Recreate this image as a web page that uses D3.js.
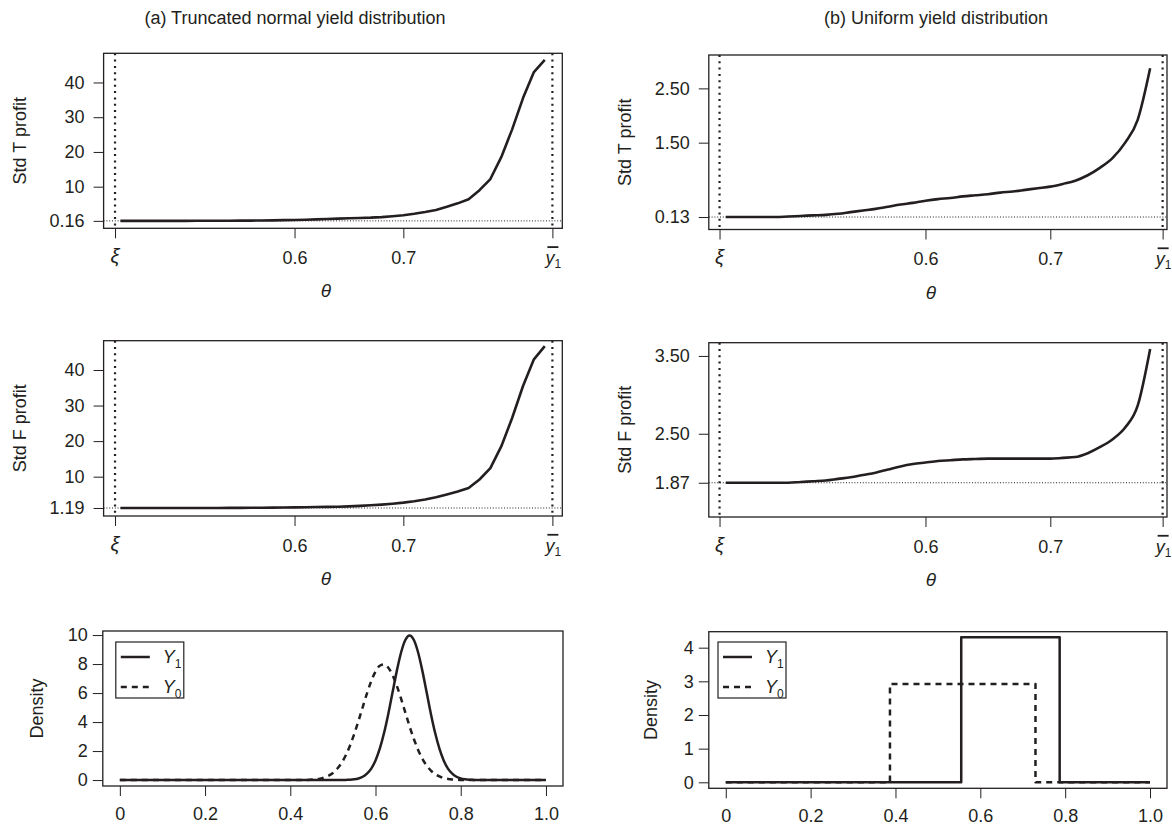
<!DOCTYPE html>
<html>
<head>
<meta charset="utf-8">
<script src="https://cdn.jsdelivr.net/npm/d3@7"></script>
<style>
  body { margin: 0; background: #fff; }
  text { font-family: "Liberation Sans", Arial, sans-serif; fill: #231f20; }
</style>
</head>
<body>
<svg id="chart" width="1172" height="827"></svg>
<script>
// ---- data ----
const titles = ["(a) Truncated normal yield distribution", "(b) Uniform yield distribution"];

// (a) truncated normal: theta grid and standardized profits
const thetaA = [0.44,0.45,0.46,0.47,0.48,0.49,0.50,0.51,0.52,0.53,0.54,0.55,0.56,0.57,0.58,0.59,
                0.60,0.61,0.62,0.63,0.64,0.65,0.66,0.67,0.68,0.69,0.70,0.71,0.72,0.73,0.74,0.75,
                0.76,0.77,0.78,0.79,0.80,0.81,0.82,0.83];
const stdTA = [0.16,0.16,0.16,0.16,0.16,0.17,0.17,0.18,0.18,0.19,0.20,0.22,0.24,0.27,0.31,0.36,
               0.42,0.50,0.58,0.68,0.80,0.90,0.98,1.08,1.25,1.50,1.80,2.20,2.70,3.30,4.20,5.20,
               6.40,9.00,12.2,18.5,26.5,35.5,43.0,46.5];
const stdFA = [1.19,1.19,1.19,1.19,1.19,1.19,1.19,1.20,1.20,1.21,1.22,1.23,1.25,1.27,1.30,1.33,
               1.37,1.41,1.45,1.50,1.56,1.65,1.78,1.95,2.15,2.40,2.70,3.10,3.60,4.20,5.00,5.80,
               6.80,9.20,12.4,18.5,26.5,35.5,43.0,46.7];

// (b) uniform: theta grid and standardized profits
const thetaB = [0.44,0.45,0.46,0.47,0.48,0.49,0.50,0.51,0.52,0.53,0.54,0.55,0.56,0.57,0.58,0.59,
                0.60,0.61,0.62,0.63,0.64,0.65,0.66,0.67,0.68,0.69,0.70,0.71,0.72,0.73,0.74,0.75,
                0.76,0.77,0.78];
const stdTB = [0.13,0.13,0.13,0.13,0.13,0.14,0.15,0.16,0.17,0.19,0.22,0.25,0.28,0.32,0.36,0.39,
               0.43,0.46,0.48,0.51,0.53,0.55,0.58,0.60,0.63,0.66,0.69,0.74,0.80,0.90,1.04,1.22,
               1.50,1.92,2.87];
const stdFB = [1.87,1.87,1.87,1.87,1.87,1.87,1.88,1.89,1.90,1.92,1.94,1.97,2.00,2.04,2.08,2.11,
               2.13,2.15,2.16,2.17,2.175,2.18,2.18,2.18,2.18,2.18,2.18,2.19,2.20,2.25,2.33,2.43,
               2.58,2.86,3.59];

// reference lines: xi, upper support of Y1, profit at theta = xi
const xiA = 0.435, ybarA = 0.837, xiB = 0.435, ybarB = 0.79;
const baseTA = 0.16, baseFA = 1.19, baseTB = 0.13, baseFB = 1.87;

// y tick values and labels
const yTicksTA = [0.16, 10, 20, 30, 40], yLabTA = ["0.16", "10", "20", "30", "40"];
const yTicksFA = [1.19, 10, 20, 30, 40], yLabFA = ["1.19", "10", "20", "30", "40"];
const yTicksTB = [0.13, 1.5, 2.5],       yLabTB = ["0.13", "1.50", "2.50"];
const yTicksFB = [1.87, 2.5, 3.5],       yLabFB = ["1.87", "2.50", "3.50"];
const xTicksMid = [0.6, 0.7];

// (a) bottom: densities of Y1 and Y0
const densX  = [0,0.1,0.2,0.3,0.4,0.42,0.44,0.45,0.46,0.47,0.48,0.49,0.50,0.51,0.52,0.53,0.54,0.55,
                0.56,0.57,0.58,0.59,0.60,0.61,0.62,0.63,0.64,0.65,0.66,0.67,0.68,0.69,0.70,0.71,
                0.72,0.73,0.74,0.75,0.76,0.77,0.78,0.79,0.80,0.81,0.82,0.83,0.84,0.9,1.0];
const densY1 = [0,0,0,0,0,0,0,0,0,0,0,0,0,0,0,0.01,0.02,0.05,
                0.11,0.23,0.44,0.79,1.35,2.16,3.24,4.56,6.05,7.53,8.80,9.66,9.97,9.66,8.80,7.53,
                6.05,4.56,3.24,2.16,1.35,0.79,0.44,0.23,0.11,0.05,0.02,0.01,0,0,0];
const densY0 = [0,0,0,0,0,0,0.01,0.03,0.05,0.10,0.18,0.30,0.49,0.78,1.17,1.69,2.36,3.17,
                4.07,5.03,5.98,6.82,7.48,7.88,7.97,7.75,7.24,6.50,5.61,4.65,3.70,2.83,2.08,1.47,
                1.00,0.65,0.41,0.25,0.14,0.08,0.04,0.02,0.01,0,0,0,0,0,0];
const densTicks = [0, 2, 4, 6, 8, 10];

// (b) bottom: uniform densities [low, high, height]
const unifY1 = [0.555, 0.787, 4.31];
const unifY0 = [0.387, 0.730, 2.92];
const unifTicks = [0, 1, 2, 3, 4];
const unitTicks = [0, 0.2, 0.4, 0.6, 0.8, 1.0];
const unitLabels = ["0", "0.2", "0.4", "0.6", "0.8", "1.0"];

// ---- drawing ----
const svg = d3.select("#chart");
const ink = "#231f20";
const fs = 18;

const colL = [103.6, 562.3], colR = [708.8, 1167];

svg.append("text").attr("x", 295).attr("y", 24).attr("text-anchor", "middle")
   .attr("font-size", fs).text(titles[0]);
svg.append("text").attr("x", 936).attr("y", 24).attr("text-anchor", "middle")
   .attr("font-size", fs).text(titles[1]);

function styleAxis(g) {
  g.attr("font-size", fs).attr("font-family", "Liberation Sans, Arial, sans-serif").attr("color", ink);
  g.select(".domain").remove();
  g.selectAll(".tick line").attr("stroke-width", 1);
}

function box(x0, y0, x1, y1) {
  svg.append("rect").attr("x", x0).attr("y", y0).attr("width", x1 - x0).attr("height", y1 - y0)
     .attr("fill", "none").attr("stroke", ink).attr("stroke-width", 1.3);
}

function yLabel(txt, cx, cy) {
  svg.append("text").attr("transform", `translate(${cx},${cy}) rotate(-90)`)
     .attr("text-anchor", "middle").attr("dy", "0.36em").attr("font-size", fs).text(txt);
}

function profitPanel(o) {
  const [x0, x1] = o.cols, [y0, y1] = o.rows;
  const x = d3.scaleLinear().domain(o.xDomain).range([x0, x1]);
  const y = d3.scaleLinear().domain(o.yDomain).range([y1, y0]);

  svg.append("line").attr("x1", x0).attr("x2", x1).attr("y1", y(o.base)).attr("y2", y(o.base))
     .attr("stroke", ink).attr("stroke-width", 1).attr("stroke-dasharray", "1,1.8");
  [o.xi, o.ybar].forEach(v => {
    svg.append("line").attr("x1", x(v)).attr("x2", x(v)).attr("y1", y0).attr("y2", y1)
       .attr("stroke", ink).attr("stroke-width", 2.2).attr("stroke-dasharray", "2,4.3");
  });

  const line = d3.line().x((d, i) => x(o.theta[i])).y(d => y(d)).curve(o.curve);
  svg.append("path").attr("d", line(o.values)).attr("fill", "none").attr("stroke", ink)
     .attr("stroke-width", 2.6).attr("stroke-linejoin", "round");

  box(x0, y0, x1, y1);

  const ya = svg.append("g").attr("transform", `translate(${x0},0)`)
    .call(d3.axisLeft(y).tickValues(o.yTicks).tickSize(10).tickPadding(9)
      .tickFormat((d, i) => o.yLabels[i]));
  styleAxis(ya);

  const xa = svg.append("g").attr("transform", `translate(0,${y1})`)
    .call(d3.axisBottom(x).tickValues([o.xi, ...xTicksMid, o.ybar]).tickSize(10).tickPadding(13)
      .tickFormat(d => (d === o.xi || d === o.ybar) ? "" : d3.format(".1f")(d)));
  styleAxis(xa);

  const base = y1 + 10 + 13 + 0.71 * fs;
  svg.append("text").attr("x", x(o.xi)).attr("y", base - 1).attr("text-anchor", "middle")
     .attr("font-family", "Liberation Serif, serif").attr("font-style", "italic")
     .attr("font-size", fs + 2).text("ξ");

  const yb = svg.append("text").attr("x", x(o.ybar) + 2).attr("y", base).attr("text-anchor", "end")
     .attr("font-style", "italic").attr("font-size", fs).text("y");
  const w = yb.node().getComputedTextLength();
  svg.append("text").attr("x", x(o.ybar) + 2).attr("y", base + 4).attr("font-size", 12).text("1");
  svg.append("line").attr("x1", x(o.ybar) + 4 - w).attr("x2", x(o.ybar) + 6)
     .attr("y1", base - 17).attr("y2", base - 17).attr("stroke", ink).attr("stroke-width", 1.8);

  svg.append("text").attr("x", (x0 + x1) / 2 - 7).attr("y", y1 + 69)
     .attr("text-anchor", "middle").attr("font-family", "Liberation Serif, serif")
     .attr("font-style", "italic").attr("font-size", fs + 1).text("θ");

  yLabel(o.ylab, o.ylabX, (y0 + y1) / 2);
}

profitPanel({cols: colL, rows: [53.3, 228.3], xDomain: [0.4245, 0.8461], yDomain: [-1.98, 48.4],
  theta: thetaA, values: stdTA, xi: xiA, ybar: ybarA, base: baseTA, yTicks: yTicksTA, yLabels: yLabTA,
  ylab: "Std T profit", ylabX: 20, curve: d3.curveLinear});
profitPanel({cols: colL, rows: [340.7, 516], xDomain: [0.4245, 0.8461], yDomain: [-1.06, 48.24],
  theta: thetaA, values: stdFA, xi: xiA, ybar: ybarA, base: baseFA, yTicks: yTicksFA, yLabels: yLabFA,
  ylab: "Std F profit", ylabX: 20, curve: d3.curveLinear});
profitPanel({cols: colR, rows: [55, 229.5], xDomain: [0.4264, 0.7935], yDomain: [-0.10, 3.115],
  theta: thetaB, values: stdTB, xi: xiB, ybar: ybarB, base: baseTB, yTicks: yTicksTB, yLabels: yLabTB,
  ylab: "Std T profit", ylabX: 625, curve: d3.curveMonotoneX});
profitPanel({cols: colR, rows: [342.7, 517], xDomain: [0.4264, 0.7935], yDomain: [1.43, 3.67],
  theta: thetaB, values: stdFB, xi: xiB, ybar: ybarB, base: baseFB, yTicks: yTicksFB, yLabels: yLabFB,
  ylab: "Std F profit", ylabX: 625, curve: d3.curveMonotoneX});

function densityPanel(o) {
  const [x0, x1] = o.cols, [y0, y1] = o.rows;
  const x = d3.scaleLinear().domain([-0.04, 1.04]).range([x0, x1]);
  const y = d3.scaleLinear().domain(o.yDomain).range([y1, y0]);

  o.series.forEach(s => {
    const line = d3.line().x(d => x(d[0])).y(d => y(d[1])).curve(s.curve);
    svg.append("path").attr("d", line(s.points)).attr("fill", "none").attr("stroke", ink)
       .attr("stroke-width", 2.5).attr("stroke-dasharray", s.dash).attr("stroke-linejoin", "round");
  });

  box(x0, y0, x1, y1);

  const ya = svg.append("g").attr("transform", `translate(${x0},0)`)
    .call(d3.axisLeft(y).tickValues(o.yTicks).tickSize(10).tickPadding(5).tickFormat(d3.format("d")));
  styleAxis(ya);
  const xa = svg.append("g").attr("transform", `translate(0,${y1})`)
    .call(d3.axisBottom(x).tickValues(unitTicks).tickSize(10).tickPadding(11)
      .tickFormat((d, i) => unitLabels[i]));
  styleAxis(xa);

  yLabel("Density", o.ylabX, (y0 + y1) / 2);

  // legend
  const [lx, ly, lw, lh] = o.legend;
  svg.append("rect").attr("x", lx).attr("y", ly).attr("width", lw).attr("height", lh)
     .attr("fill", "#fff").attr("stroke", ink).attr("stroke-width", 1.2);
  [["1", null], ["0", "6,5"]].forEach((e, i) => {
    const cy = ly + 15 + i * 30;
    svg.append("line").attr("x1", lx + 5).attr("x2", lx + 34).attr("y1", cy).attr("y2", cy)
       .attr("stroke", ink).attr("stroke-width", 2.5).attr("stroke-dasharray", e[1]);
    const t = svg.append("text").attr("x", lx + 47).attr("y", cy + 6).attr("font-size", fs)
       .attr("font-style", "italic");
    t.append("tspan").text("Y");
    t.append("tspan").attr("font-style", "normal").attr("font-size", 12).attr("dy", 5).text(e[0]);
  });
}

densityPanel({cols: [102.8, 563], rows: [631, 786], yDomain: [-0.41, 10.28], yTicks: densTicks,
  ylabX: 37, legend: [115.8, 642, 68, 56],
  series: [
    {points: densX.map((v, i) => [v, densY0[i]]), dash: "6,5", curve: d3.curveMonotoneX},
    {points: densX.map((v, i) => [v, densY1[i]]), dash: null, curve: d3.curveMonotoneX}
  ]});

function stepPoints(u) {
  return [[0, 0], [u[0], 0], [u[0], u[2]], [u[1], u[2]], [u[1], 0], [1, 0]];
}

densityPanel({cols: colR, rows: [631.7, 788.3], yDomain: [-0.178, 4.475], yTicks: unifTicks,
  ylabX: 651, legend: [718, 642, 68, 56],
  series: [
    {points: stepPoints(unifY1), dash: null, curve: d3.curveLinear},
    {points: stepPoints(unifY0), dash: "6,5", curve: d3.curveLinear}
  ]});
</script>
</body>
</html>
